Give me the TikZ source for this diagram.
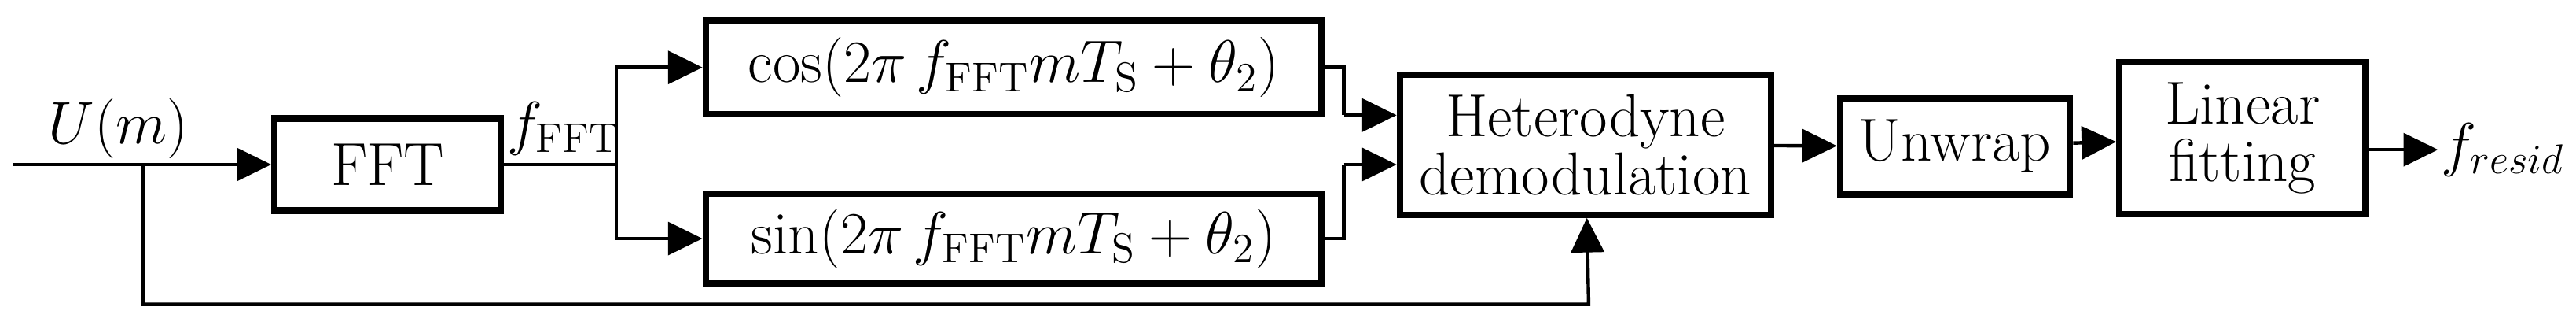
\documentclass[tikz,border=0pt]{standalone}
\usetikzlibrary{arrows.meta, positioning}

\begin{document}
\begin{tikzpicture}[x=0.02cm, y=-0.02cm, font=\fontsize{21}{23}\selectfont,
  block/.style = {draw, line width=2.2pt, align=center, inner sep=2pt},
  conn/.style = {line width=1.2pt, -{Triangle[length=0.42cm,width=0.4cm]}},
  wire/.style = {line width=1.2pt}]
  \useasboundingbox (0,0) rectangle (1568,202);
  \node[block, minimum width=2.76cm, minimum height=1.12cm] (fft) at (236,100) {FFT};
  \node[block, minimum width=7.5cm, minimum height=1.14cm] (cos) at (617,41)
    {cos$(2\pi\, f_{\mathrm{FFT}}mT_{\mathrm{S}}+\theta_2)$};
  \node[block, minimum width=7.5cm, minimum height=1.1cm] (sin) at (617,145)
    {sin$(2\pi\, f_{\mathrm{FFT}}mT_{\mathrm{S}}+\theta_2)$};
  \node[block, minimum width=4.52cm, minimum height=1.7cm] (het) at (965,88)
    {Heterodyne\\[-3pt]demodulation};
  \node[block, minimum width=2.8cm, minimum height=1.16cm] (unw) at (1190,89) {Unwrap};
  \node[block, minimum width=3.0cm, minimum height=1.84cm] (lin) at (1365,84)
    {Linear\\[-3pt]fitting};
  \node[anchor=west, inner sep=1pt] (res) at (1484,91) {$f_{resid}$};
  \node (um) at (72,78) {$U(m)$};
  \node (ff) at (343,78) {$f_{\mathrm{FFT}}$};

  \coordinate (in) at (8,100);
  \coordinate (tap) at (87,100);
  \coordinate (split) at (375,100);
  \coordinate (jc) at (818,70);
  \coordinate (js) at (818,100);
  \coordinate (fb) at (967,185);

  % forward path
  \draw[conn] (in) -- (fft);
  \draw[wire] (fft) -- (split);
  \draw[conn] (split) |- (cos);
  \draw[conn] (split) |- (sin);
  \draw[wire] (cos) -| (jc);
  \draw[conn] (jc) -- (jc -| het.west);
  \draw[wire] (sin) -| (js);
  \draw[conn] (js) -- (js -| het.west);
  \draw[conn] (het) -- (unw);
  \draw[conn] (unw) -- (lin);
  \draw[conn] (lin.east |- res) -- (res);
  % bypass
  \draw[conn] (tap) |- (fb) -- (het);
\end{tikzpicture}
\end{document}
